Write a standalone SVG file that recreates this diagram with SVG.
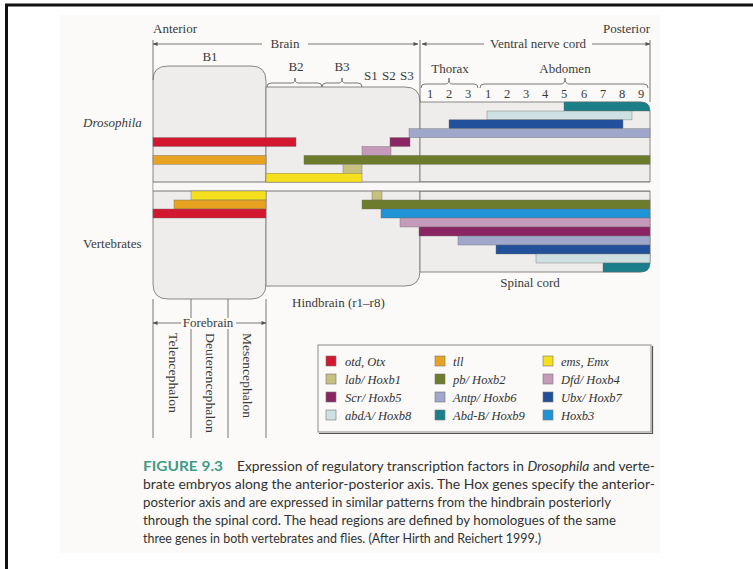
<svg xmlns="http://www.w3.org/2000/svg" width="753" height="569" viewBox="0 0 753 569">
  <style>
    .lbl { font-family: "Liberation Serif", "DejaVu Serif", serif; font-size: 13px; fill: #3a3a3a; }
    .num { font-family: "Liberation Serif", "DejaVu Serif", serif; font-size: 12.5px; fill: #3a3a3a; text-anchor: middle; }
    .it  { font-style: italic; }
    .leg { font-family: "Liberation Serif", "DejaVu Serif", serif; font-size: 12.5px; font-style: italic; fill: #333; }
    .cap { font-family: Lato, "Open Sans", "Liberation Sans", sans-serif; font-size: 12.5px; fill: #333; }
    .region { fill: #eeedeb; stroke: #7a7a7a; stroke-width: 0.9; }
    .line { fill: none; stroke: #6a6a6a; stroke-width: 0.9; }
    .bar { stroke: #6d6d6d; stroke-width: 0.4; }
    .sw { stroke: #777; stroke-width: 0.6; }
    .otd { fill: #d3172e; } .tll { fill: #e8a222; } .ems { fill: #f6df1c; }
    .lab { fill: #c7c17f; } .pb { fill: #6d7c2c; } .dfd { fill: #c59aba; }
    .scr { fill: #8a2462; } .antp { fill: #9fa7cb; } .ubx { fill: #22509b; }
    .abda { fill: #cfe0e2; } .abdb { fill: #1b7f8a; } .hoxb3 { fill: #1e93d6; }
  </style>
  <defs>
    <marker id="tip" viewBox="0 0 6 6" refX="5.5" refY="3" markerWidth="5" markerHeight="5" orient="auto-start-reverse" markerUnits="userSpaceOnUse">
      <path d="M0,0.6 L6,3 L0,5.4 Z" fill="#555"/>
    </marker>
  </defs>

  <!-- page -->
  <rect x="0" y="0" width="753" height="569" fill="#ffffff"/>
  <rect x="60" y="15" width="600" height="538" fill="#fbfaf8"/>
  <path d="M6.5,569 V5 H753" fill="none" stroke="#111" stroke-width="3"/>

  <!-- axis headings -->
  <g id="axis">
    <text class="lbl" x="153" y="33">Anterior</text>
    <text class="lbl" x="650" y="33" text-anchor="end">Posterior</text>
    <text class="lbl" x="285" y="48" text-anchor="middle">Brain</text>
    <text class="lbl" x="538" y="48" text-anchor="middle">Ventral nerve cord</text>
    <text class="lbl" x="210" y="61" text-anchor="middle">B1</text>
    <text class="lbl" x="296" y="71" text-anchor="middle">B2</text>
    <text class="lbl" x="342" y="71" text-anchor="middle">B3</text>
    <text class="lbl" x="364" y="80">S1</text>
    <text class="lbl" x="382" y="80">S2</text>
    <text class="lbl" x="400" y="80">S3</text>
    <text class="lbl" x="450" y="73" text-anchor="middle">Thorax</text>
    <text class="lbl" x="565" y="73" text-anchor="middle">Abdomen</text>
  </g>

  <!-- segment numbers -->
  <g id="segments">
    <text class="num" x="430" y="98">1</text>
    <text class="num" x="449" y="98">2</text>
    <text class="num" x="468" y="98">3</text>
    <text class="num" x="488" y="98">1</text>
    <text class="num" x="507" y="98">2</text>
    <text class="num" x="526" y="98">3</text>
    <text class="num" x="545" y="98">4</text>
    <text class="num" x="564" y="98">5</text>
    <text class="num" x="584" y="98">6</text>
    <text class="num" x="603" y="98">7</text>
    <text class="num" x="622" y="98">8</text>
    <text class="num" x="641" y="98">9</text>
  </g>

  <!-- body regions -->
  <g id="regions">
    <path id="b1" class="region" d="M153,80 Q153,66 168,66 H251 Q266,66 266,81 V284 Q266,299 251,299 H168 Q153,299 153,284 Z"/>
    <path id="hindbrain" class="region" d="M266,87 H405 Q420,87 420,102 V271 Q420,286 405,286 H266 Z"/>
    <path id="vnc" class="region" d="M420,102 H640 Q650,102 650,112 V182 H420 Z"/>
    <path id="spinal" class="region" d="M420,191 H650 V262 Q650,272 640,272 H420 Z"/>
    <rect x="153.5" y="182" width="496.5" height="9" fill="#f9f8f6"/>
    <path class="line" d="M153,182 H650 M153,191 H650"/>
  </g>

  <!-- Drosophila expression domains -->
  <g id="drosophila">
    <path class="bar abdb" d="M564,102 H641 Q650,102 650,111 H564 Z"/>
    <rect class="bar abda" x="487" y="111" width="145" height="8.9"/>
    <rect class="bar ubx" x="449" y="119.8" width="174" height="8.9"/>
    <rect class="bar antp" x="409" y="128.7" width="241" height="8.9"/>
    <rect class="bar otd" x="153" y="137.6" width="143" height="8.9"/>
    <rect class="bar scr" x="390" y="137.6" width="20" height="8.9"/>
    <rect class="bar dfd" x="362" y="146.5" width="29" height="8.9"/>
    <rect class="bar tll" x="153" y="155.4" width="113" height="8.9"/>
    <rect class="bar pb" x="304" y="155.4" width="346" height="8.9"/>
    <rect class="bar lab" x="343" y="164.3" width="19" height="8.9"/>
    <rect class="bar ems" x="266" y="173.2" width="96" height="8.9"/>
  </g>

  <!-- Vertebrate expression domains -->
  <g id="vertebrates">
    <rect class="bar ems" x="191" y="191" width="75" height="9"/>
    <rect class="bar lab" x="372" y="191" width="10" height="9"/>
    <rect class="bar tll" x="174" y="200" width="92" height="9"/>
    <rect class="bar pb" x="362" y="200" width="288" height="9"/>
    <rect class="bar otd" x="153" y="209" width="113" height="9"/>
    <rect class="bar hoxb3" x="381" y="209" width="269" height="9"/>
    <rect class="bar dfd" x="400" y="218" width="250" height="9"/>
    <rect class="bar scr" x="419" y="227" width="231" height="9"/>
    <rect class="bar antp" x="458" y="236" width="192" height="9"/>
    <rect class="bar ubx" x="496" y="245" width="154" height="9"/>
    <rect class="bar abda" x="536" y="254" width="114" height="9"/>
    <path class="bar abdb" d="M603,263 H650 Q650,272 641,272 H603 Z"/>
  </g>

  <!-- connectors: axis arrows, ticks and braces -->
  <g id="connectors">
    <path class="line" d="M153,44 H262" marker-start="url(#tip)"/>
    <path class="line" d="M308,44 H418" marker-end="url(#tip)"/>
    <path class="line" d="M422,44 H484" marker-start="url(#tip)"/>
    <path class="line" d="M592,44 H650" marker-end="url(#tip)"/>
    <path class="line" d="M153,40 V80 M420,40 V102 M650,40 V102"/>
    <!-- braces -->
    <path class="line" d="M267,87 Q267,83 271,83 H292 Q295,83 295,78 Q295,83 298,83 H318 Q322,83 322,87"/>
    <path class="line" d="M322,87 Q322,83 326,83 H339 Q342,83 342,78 Q342,83 345,83 H358 Q362,83 362,87"/>
    <path class="line" d="M421,88 Q421,84 425,84 H446 Q449,84 449,78 Q449,84 452,84 H474 Q478,84 478,88"/>
    <path class="line" d="M480,88 Q480,84 484,84 H561 Q565,84 565,78 Q565,84 569,84 H644 Q648,84 648,88"/>
    <!-- forebrain subdivisions -->
    <path class="line" d="M153,323 H181" marker-start="url(#tip)"/>
    <path class="line" d="M236,323 H266" marker-end="url(#tip)"/>
    <path class="line" d="M153,299 V438 M191,299 V318 M228,299 V318 M191,329 V438 M228,329 V438 M266,299 V438"/>
  </g>

  <!-- side and region labels -->
  <g id="labels">
    <text class="lbl it" x="83" y="127">Drosophila</text>
    <text class="lbl" x="83" y="248">Vertebrates</text>
    <text class="lbl" x="292" y="307">Hindbrain (r1–r8)</text>
    <text class="lbl" x="530" y="287" text-anchor="middle">Spinal cord</text>
    <text class="lbl" x="208" y="327" text-anchor="middle">Forebrain</text>
    <text class="lbl" transform="translate(169,333) rotate(90)" textLength="80" lengthAdjust="spacingAndGlyphs">Telencephalon</text>
    <text class="lbl" transform="translate(206,333) rotate(90)" textLength="100" lengthAdjust="spacingAndGlyphs">Deuterencephalon</text>
    <text class="lbl" transform="translate(243,333) rotate(90)" textLength="85" lengthAdjust="spacingAndGlyphs">Mesencephalon</text>
  </g>

  <!-- key -->
  <g id="legend">
    <rect x="318" y="345" width="333" height="87" fill="#fbfaf8" stroke="#8a8a8a" stroke-width="1"/>
    <path d="M319,433.5 H652.5 V346" fill="none" stroke="#555" stroke-width="1.2"/>
    <rect class="sw otd" x="326" y="356" width="10" height="10"/>
    <text class="leg" x="345" y="366">otd, Otx</text>
    <rect class="sw tll" x="435" y="356" width="10" height="10"/>
    <text class="leg" x="453" y="366">tll</text>
    <rect class="sw ems" x="543" y="356" width="10" height="10"/>
    <text class="leg" x="561" y="366">ems, Emx</text>

    <rect class="sw lab" x="326" y="374" width="10" height="10"/>
    <text class="leg" x="345" y="384">lab/ Hoxb1</text>
    <rect class="sw pb" x="435" y="374" width="10" height="10"/>
    <text class="leg" x="453" y="384">pb/ Hoxb2</text>
    <rect class="sw dfd" x="543" y="374" width="10" height="10"/>
    <text class="leg" x="561" y="384">Dfd/ Hoxb4</text>

    <rect class="sw scr" x="326" y="392" width="10" height="10"/>
    <text class="leg" x="345" y="402">Scr/ Hoxb5</text>
    <rect class="sw antp" x="435" y="392" width="10" height="10"/>
    <text class="leg" x="453" y="402">Antp/ Hoxb6</text>
    <rect class="sw ubx" x="543" y="392" width="10" height="10"/>
    <text class="leg" x="561" y="402">Ubx/ Hoxb7</text>

    <rect class="sw abda" x="326" y="410" width="10" height="10"/>
    <text class="leg" x="345" y="420">abdA/ Hoxb8</text>
    <rect class="sw abdb" x="435" y="410" width="10" height="10"/>
    <text class="leg" x="453" y="420">Abd-B/ Hoxb9</text>
    <rect class="sw hoxb3" x="543" y="410" width="10" height="10"/>
    <text class="leg" x="561" y="420">Hoxb3</text>
  </g>

  <!-- caption -->
  <g id="caption">
    <text class="cap" x="143" y="471" textLength="80" lengthAdjust="spacingAndGlyphs" style="font-weight:bold; fill:#3d9b86">FIGURE 9.3</text>
    <text class="cap" x="237" y="471" textLength="418" lengthAdjust="spacingAndGlyphs">Expression of regulatory transcription factors in <tspan font-style="italic">Drosophila</tspan> and verte-</text>
    <text class="cap" x="143" y="489" textLength="512" lengthAdjust="spacingAndGlyphs">brate embryos along the anterior-posterior axis. The Hox genes specify the anterior-</text>
    <text class="cap" x="143" y="507" textLength="468" lengthAdjust="spacingAndGlyphs">posterior axis and are expressed in similar patterns from the hindbrain posteriorly</text>
    <text class="cap" x="143" y="525" textLength="473" lengthAdjust="spacingAndGlyphs">through the spinal cord. The head regions are defined by homologues of the same</text>
    <text class="cap" x="143" y="543" textLength="398" lengthAdjust="spacingAndGlyphs">three genes in both vertebrates and flies. (After Hirth and Reichert 1999.)</text>
  </g>
</svg>
